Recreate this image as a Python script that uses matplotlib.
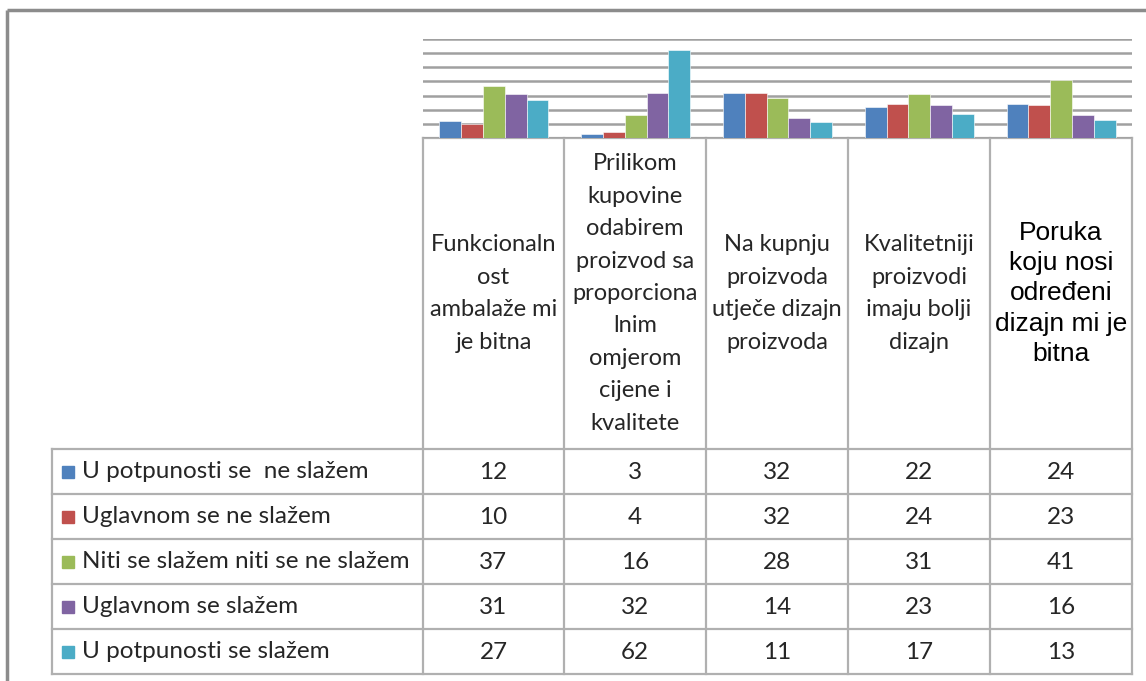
import numpy as np
import matplotlib
matplotlib.use("Agg")
import matplotlib.pyplot as plt
from matplotlib.patches import Rectangle

categories = [
    "Funkcionaln\nost\nambalaže mi\nje bitna",
    "Prilikom\nkupovine\nodabirem\nproizvod sa\nproporciona\nlnim\nomjerom\ncijene i\nkvalitete",
    "Na kupnju\nproizvoda\nutječe dizajn\nproizvoda",
    "Kvalitetniji\nproizvodi\nimaju bolji\ndizajn",
    "Poruka\nkoju nosi\nodređeni\ndizajn mi je\nbitna",
]
series = [
    "U potpunosti se  ne slažem",
    "Uglavnom se ne slažem",
    "Niti se slažem niti se ne slažem",
    "Uglavnom se slažem",
    "U potpunosti se slažem",
]
s1 = [12, 3, 32, 22, 24]
s2 = [10, 4, 32, 24, 23]
s3 = [37, 16, 28, 31, 41]
s4 = [31, 32, 14, 23, 16]
s5 = [27, 62, 11, 17, 13]
values = [s1, s2, s3, s4, s5]
colors = ["#4F81BD", "#C0504D", "#9BBB59", "#8064A2", "#4BACC6"]

W, H = 1146, 681
fig = plt.figure(figsize=(W / 100, H / 100), dpi=100)

# layout in pixels
col_edges = [423, 564, 706, 848, 990, 1132]
leg_left = 52
plot_top, plot_bot = 39, 138
hdr_bot = 449
row_h = 45

# overlay in pixel coordinates
ov = fig.add_axes([0, 0, 1, 1])
ov.set_xlim(0, W)
ov.set_ylim(H, 0)
ov.axis("off")

# bars
bx = fig.add_axes([col_edges[0] / W, (H - plot_bot) / H,
                   (col_edges[-1] - col_edges[0]) / W, (plot_bot - plot_top) / H])
bw = 1 / 6.5
x = np.arange(len(s1))
for i, (vals, c) in enumerate(zip(values, colors)):
    bx.bar(x + (i - 2) * bw, vals, width=bw, color=c, edgecolor="white",
           linewidth=0.4, zorder=3)
bx.set_xlim(-0.5, 4.5)
bx.set_ylim(0, 70)
bx.set_yticks(range(0, 80, 10))
bx.yaxis.grid(True, color="#a0a0a0", linewidth=1.8, zorder=0)
bx.set_xticks([])
bx.tick_params(left=False, labelleft=False)
for s in bx.spines.values():
    s.set_visible(False)
bx.patch.set_alpha(0)

# outer frame
lc = "#8c8c8c"
ov.plot([7, 7], [10, H], color=lc, lw=2.5, solid_capstyle="butt")
ov.plot([7, W], [10, 10], color=lc, lw=2.5, solid_capstyle="butt")

# table grid
gc = "#b0b0b0"
tbl_bot = hdr_bot + 5 * row_h
ov.plot([col_edges[0], col_edges[-1]], [plot_bot, plot_bot], color=gc, lw=1.6)
for xe in col_edges:
    ov.plot([xe, xe], [plot_bot, tbl_bot], color=gc, lw=1.6)
for r in range(6):
    yy = hdr_bot + r * row_h
    ov.plot([leg_left, col_edges[-1]], [yy, yy], color=gc, lw=1.6)
ov.plot([leg_left, leg_left], [hdr_bot, tbl_bot], color=gc, lw=1.6)

# header labels
for j, lab in enumerate(categories):
    cx = (col_edges[j] + col_edges[j + 1]) / 2
    cy = (plot_bot + hdr_bot) / 2
    if j == 4:
        ov.text(cx, cy, lab, ha="center", va="center", multialignment="center",
                fontsize=19, family="Liberation Sans", color="black", linespacing=1.33)
    else:
        ov.text(cx, cy, lab, ha="center", va="center", multialignment="center",
                fontsize=17, family="Lato", color="#262626", linespacing=1.67)

# rows: legend keys, names, values
for i, (name, vals, c) in enumerate(zip(series, values, colors)):
    cy = hdr_bot + (i + 0.5) * row_h
    ov.add_patch(Rectangle((62, cy - 6), 12, 12, color=c))
    ov.text(82, cy, name, ha="left", va="center", fontsize=17.5,
            family="Lato", color="#262626")
    for j, v in enumerate(vals):
        cx = (col_edges[j] + col_edges[j + 1]) / 2
        ov.text(cx, cy + 1, str(v), ha="center", va="center", fontsize=17.5,
                family="Lato", color="#262626")

fig.savefig("out.png", dpi=100)
